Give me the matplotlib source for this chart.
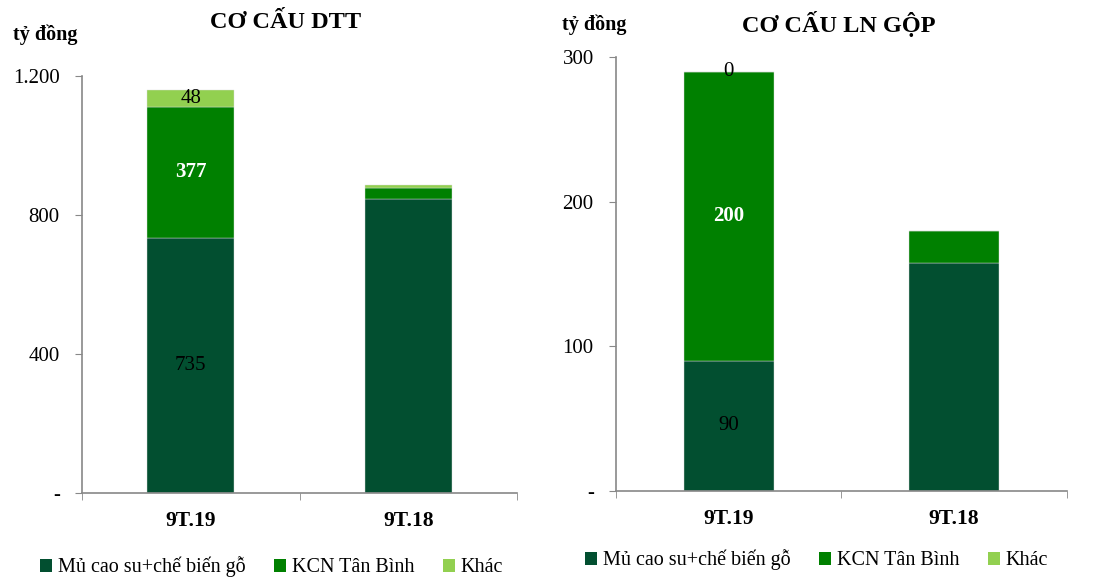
import matplotlib.pyplot as plt
from matplotlib.patches import Patch

plt.rcParams['font.family'] = ['Liberation Serif', 'DejaVu Serif']

# data (tỷ đồng)
periods = ["9T.19", "9T.18"]
series = ["Mủ cao su+chế biến gỗ", "KCN Tân Bình", "Khác"]
colors = ["#024f30", "#008000", "#92d050"]

dtt_mu = [735, 846]
dtt_kcn = [377, 31]
dtt_khac = [48, 10]

lng_mu = [90, 158]
lng_kcn = [200, 21.5]
lng_khac = [0, 0.5]

fig = plt.figure(figsize=(10.94, 5.77), dpi=100)
ax1 = fig.add_axes([0.075, 0.1456, 0.3976, 0.7227])
ax2 = fig.add_axes([0.563, 0.149, 0.4122, 0.752])


def draw(ax, stacks, ylim, yticks, ylabels, labels):
    x = range(len(periods))
    bottom = [0] * len(periods)
    for i, vals in enumerate(stacks):
        ax.bar(x, vals, 0.4, bottom=bottom, color=colors[i],
               edgecolor="#dddddd", linewidth=0.3)
        # value labels only on the first period
        style = labels[i]
        if style is not None:
            ax.text(0, bottom[0] + vals[0] / 2, f"{vals[0]:g}",
                    ha="center", va="center", fontsize=15,
                    color=style[0], fontweight=style[1])
        bottom = [b + v for b, v in zip(bottom, vals)]
    ax.set_xlim(-0.5, 1.5)
    ax.set_ylim(*ylim)
    ax.set_yticks(yticks)
    ax.set_yticklabels(ylabels, fontsize=15)
    ax.set_xticks([0, 1])
    ax.set_xticklabels(periods, fontsize=15.5, fontweight="bold")
    ax.set_xticks([-0.5, 0.5, 1.5], minor=True)
    ax.tick_params(axis="x", which="major", length=0, pad=13)
    ax.tick_params(axis="x", which="minor", length=5, color="#888888")
    ax.tick_params(axis="y", length=5, color="#888888", pad=11)
    for s in ["top", "right"]:
        ax.spines[s].set_visible(False)
    for s in ["left", "bottom"]:
        ax.spines[s].set_color("#888888")
        ax.spines[s].set_linewidth(1.2)


draw(ax1, [dtt_mu, dtt_kcn, dtt_khac], (0, 1200), [0, 400, 800, 1200],
     ["-", "400", "800", "1.200"],
     [("black", "normal"), ("white", "bold"), ("black", "normal")])
draw(ax2, [lng_mu, lng_kcn, lng_khac], (0, 300), [0, 100, 200, 300],
     ["-", "100", "200", "300"],
     [("black", "normal"), ("white", "bold"), ("black", "normal")])

fig.text(286 / 1094, 1 - 23 / 577, "CƠ CẤU DTT", ha="center", va="center",
         fontsize=17.5, fontweight="bold")
fig.text(839 / 1094, 1 - 24 / 577, "CƠ CẤU LN GỘP", ha="center", va="center",
         fontsize=17.5, fontweight="bold")
fig.text(13 / 1094, 1 - 35 / 577, "tỷ đồng", ha="left", va="center",
         fontsize=14.5, fontweight="bold")
fig.text(562 / 1094, 1 - 25 / 577, "tỷ đồng", ha="left", va="center",
         fontsize=14.5, fontweight="bold")

handles = [Patch(facecolor=c, label=s) for c, s in zip(colors, series)]
for x0, y0 in [(40, 567), (585, 560)]:
    fig.legend(handles=handles, loc="center left", ncol=3, frameon=False,
               fontsize=14.5, handlelength=0.6, handleheight=0.6,
               handletextpad=0.3, columnspacing=1.4, borderpad=0,
               borderaxespad=0,
               bbox_to_anchor=(x0 / 1094, 1 - y0 / 577),
               bbox_transform=fig.transFigure)

fig.savefig("out.png", dpi=100)
